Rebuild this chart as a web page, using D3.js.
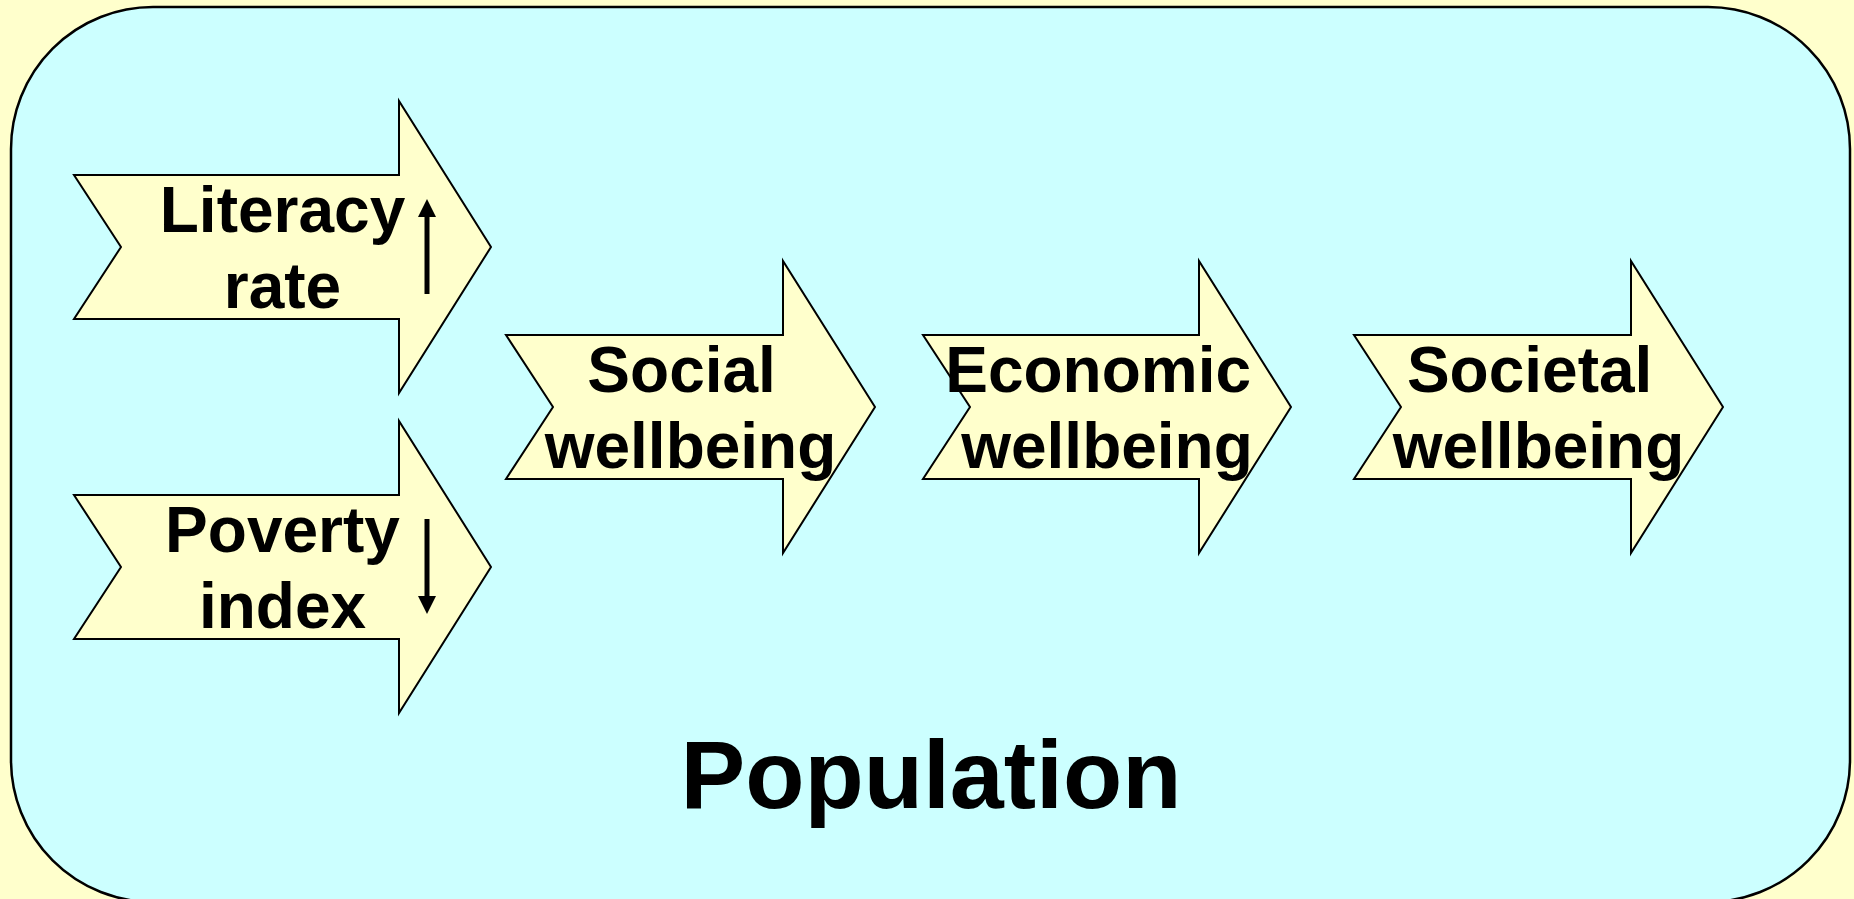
<!DOCTYPE html>
<html>
<head>
<meta charset="utf-8">
<script src="https://cdn.jsdelivr.net/npm/d3@7"></script>
<style>
  html, body { margin: 0; padding: 0; background: #FFFFCC; overflow: hidden; }
  svg { display: block; }
  text { font-family: "Liberation Sans", Arial, sans-serif; font-weight: bold; white-space: pre; }
</style>
</head>
<body>
<div id="chart"></div>
<script>
// labels of the arrows, two lines each (trailing space kept as in the original)
var arrowLine1 = ["Literacy", "Poverty", "Social ", "Economic ", "Societal "];
var arrowLine2 = ["rate", "index", "wellbeing", "wellbeing", "wellbeing"];
// trend shown beside the first two arrows
var arrowTrend = ["up", "down", null, null, null];
var footerLabel = "Population";

// layout: left tail of each arrow, its vertical centre and body length
var arrowTail = [74, 74, 506, 923, 1354];
var arrowMid = [247, 567, 407, 407, 407];
var arrowBody = [325, 325, 277, 276, 277];

var width = 1854,
    height = 899;

var notch = 47,      // depth of the tail notch
    headLen = 92,    // head length
    bodyHalf = 72,
    headHalf = 146;

var font_size = 64;

var svg = d3.select("#chart").append("svg")
    .attr("width", width)
    .attr("height", height);

svg.append("rect")
  .attr("width", width)
  .attr("height", height)
  .style("fill", "#FFFFCC");

// the big rounded panel
svg.append("rect")
  .attr("x", 11)
  .attr("y", 7)
  .attr("width", 1839)
  .attr("height", 895)
  .attr("rx", 142)
  .attr("ry", 142)
  .style("fill", "#CCFFFF")
  .style("stroke", "#000")
  .style("stroke-width", 2.5);

var arrows = arrowLine1.map(function(d, i){
  return {l1: d, l2: arrowLine2[i], trend: arrowTrend[i], x: arrowTail[i], y: arrowMid[i], body: arrowBody[i]};
});

function arrowPath(d){
  var p = d3.path();
  p.moveTo(d.x, d.y - bodyHalf);
  p.lineTo(d.x + d.body, d.y - bodyHalf);
  p.lineTo(d.x + d.body, d.y - headHalf);
  p.lineTo(d.x + d.body + headLen, d.y);
  p.lineTo(d.x + d.body, d.y + headHalf);
  p.lineTo(d.x + d.body, d.y + bodyHalf);
  p.lineTo(d.x, d.y + bodyHalf);
  p.lineTo(d.x + notch, d.y);
  p.closePath();
  return p.toString();
}

var g = svg.selectAll("g.arrow")
  .data(arrows)
  .enter()
  .append("g")
  .attr("class", "arrow");

g.append("path")
  .attr("d", arrowPath)
  .style("fill", "#FFFFCC")
  .style("stroke", "#000")
  .style("stroke-width", 2)
  .style("stroke-linejoin", "miter");

var cx = d => d.x + (d.body + headLen) / 2;

g.append("text")
  .attr("x", cx)
  .attr("y", d => d.y - 15)
  .attr("text-anchor", "middle")
  .style("font-size", font_size + "px")
  .text(d => d.l1);

g.append("text")
  .attr("x", cx)
  .attr("y", d => d.y + 61)
  .attr("text-anchor", "middle")
  .style("font-size", font_size + "px")
  .text(d => d.l2);

// small trend arrows
var trendG = g.filter(d => d.trend != null);

trendG.append("line")
  .attr("x1", d => d.x + 353)
  .attr("x2", d => d.x + 353)
  .attr("y1", d => d.trend == "up" ? d.y - 31 : d.y - 48)
  .attr("y2", d => d.trend == "up" ? d.y + 47 : d.y + 30)
  .style("stroke", "#000")
  .style("stroke-width", 5);

trendG.append("path")
  .attr("d", function(d){
    var x = d.x + 353;
    if (d.trend == "up") {
      return "M" + x + "," + (d.y - 48) + "L" + (x + 9) + "," + (d.y - 30) + "L" + (x - 9) + "," + (d.y - 30) + "Z";
    }
    return "M" + x + "," + (d.y + 47) + "L" + (x + 9) + "," + (d.y + 29) + "L" + (x - 9) + "," + (d.y + 29) + "Z";
  })
  .style("fill", "#000");

svg.append("text")
  .attr("x", 931)
  .attr("y", 808)
  .attr("text-anchor", "middle")
  .style("font-size", "97px")
  .text(footerLabel);
</script>
</body>
</html>
